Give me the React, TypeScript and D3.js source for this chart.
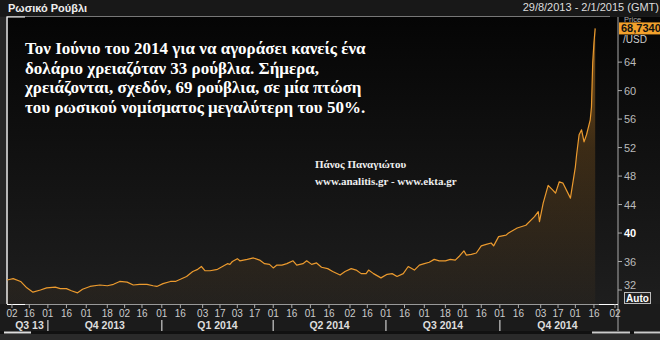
import React from "react";
import * as d3 from "d3";

const dates: string[] = [
  "2013-08-29","2013-09-03","2013-09-09","2013-09-14","2013-09-19","2013-09-25","2013-09-30",
  "2013-10-07","2013-10-11","2013-10-16","2013-10-20","2013-10-25","2013-10-29",
  "2013-11-04","2013-11-12","2013-11-18","2013-11-23","2013-11-28",
  "2013-12-04","2013-12-09","2013-12-14","2013-12-20","2013-12-25","2013-12-28",
  "2014-01-02","2014-01-08","2014-01-12","2014-01-16","2014-01-21","2014-01-26","2014-01-30",
  "2014-02-02","2014-02-05","2014-02-09","2014-02-15","2014-02-19","2014-02-23","2014-02-25","2014-02-27",
  "2014-03-03","2014-03-05","2014-03-11","2014-03-16","2014-03-21","2014-03-25","2014-03-29",
  "2014-04-01","2014-04-04","2014-04-08","2014-04-12","2014-04-17","2014-04-20","2014-04-25","2014-04-28",
  "2014-05-02","2014-05-06","2014-05-10","2014-05-15","2014-05-19","2014-05-25","2014-05-29",
  "2014-06-03","2014-06-07","2014-06-11","2014-06-15","2014-06-17","2014-06-21","2014-06-27",
  "2014-07-02","2014-07-06","2014-07-10","2014-07-15","2014-07-19","2014-07-24","2014-07-28",
  "2014-08-01","2014-08-05","2014-08-09","2014-08-13","2014-08-18","2014-08-22","2014-08-26","2014-08-29",
  "2014-09-02","2014-09-04","2014-09-08","2014-09-12","2014-09-16","2014-09-20","2014-09-24","2014-09-26","2014-09-30",
  "2014-10-06","2014-10-08","2014-10-15","2014-10-22","2014-10-29",
  "2014-11-01","2014-11-02","2014-11-05","2014-11-09","2014-11-13","2014-11-15","2014-11-18","2014-11-21","2014-11-27",
  "2014-12-01","2014-12-02","2014-12-04","2014-12-06","2014-12-08","2014-12-10","2014-12-13","2014-12-14","2014-12-15","2014-12-16","2014-12-17",
];

const values: number[] = [
  33.4,33.6,33.2,32.3,31.7,32.0,32.3,
  32.4,32.2,32.2,31.9,31.6,32.1,
  32.5,32.7,32.6,32.8,33.2,
  33.1,32.7,32.8,32.8,32.6,32.5,
  32.9,33.2,33.2,33.5,33.9,34.6,34.9,
  35.3,34.7,34.7,34.9,35.3,35.7,35.6,36.0,
  36.4,36.1,36.3,36.5,36.2,35.7,35.6,
  35.1,35.5,35.5,35.7,36.1,35.5,35.7,36.1,
  35.6,35.8,35.2,35.0,34.6,34.1,34.6,
  35.0,34.8,34.3,34.3,34.8,34.3,33.7,
  34.2,34.3,33.9,34.3,35.3,34.8,35.5,
  35.7,35.9,36.3,36.1,36.1,36.3,36.2,36.7,
  37.5,36.9,37.0,37.2,38.2,38.4,38.6,38.2,39.5,
  39.7,40.0,40.7,41.1,42.3,
  43.0,41.6,44.2,46.7,46.0,45.6,47.2,47.0,44.9,
  49.3,51.0,53.8,54.5,52.8,53.8,55.9,57.7,63.9,66.7,68.734,
];

const yTicks: number[] = [32, 36, 40, 44, 48, 52, 56, 60, 64];

const xTickDates: string[] = [
  "2013-09-02","2013-09-16","2013-10-01","2013-10-16","2013-11-01","2013-11-18","2013-12-02","2013-12-16",
  "2014-01-01","2014-01-16","2014-02-03","2014-02-17","2014-03-03","2014-03-17","2014-04-01","2014-04-16",
  "2014-05-01","2014-05-16","2014-06-02","2014-06-16","2014-07-01","2014-07-16","2014-08-01","2014-08-18",
  "2014-09-01","2014-09-16","2014-10-01","2014-10-16","2014-11-03","2014-11-17","2014-12-01","2014-12-16",
  "2015-01-02",
];

const quarterLabels: string[] = ["Q3 13", "Q4 2013", "Q1 2014", "Q2 2014", "Q3 2014", "Q4 2014"];
const quarterBounds: string[] = ["2013-08-29", "2013-10-01", "2014-01-01", "2014-04-01", "2014-07-01", "2014-10-01", "2015-01-02"];

const noteLines: string[] = [
  "Τον Ιούνιο του 2014 για να αγοράσει κανείς ένα",
  "δολάριο χρειαζόταν 33 ρούβλια. Σήμερα,",
  "χρειάζονται, σχεδόν, 69 ρούβλια, σε μία πτώση",
  "του ρωσικού νομίσματος μεγαλύτερη του 50%.",
];
const authorLines: string[] = ["Πάνος Παναγιώτου", "www.analitis.gr - www.ekta.gr"];

const parse = d3.timeParse("%Y-%m-%d");
const fmtDay = d3.timeFormat("%d");

export default function App() {
  const W = 660, H = 340;
  const left = 7, right = 618, top = 17, bottom = 304;
  const x = d3.scaleTime().domain([parse("2013-08-29")!, parse("2015-01-02")!]).range([7, 615]);
  const y = d3.scaleLinear().domain([32, 70]).range([290, 19.4]);
  const data = dates.map((d, i) => ({ d: parse(d)!, v: values[i] }));
  const line = d3.line<{ d: Date; v: number }>().x((p) => x(p.d)).y((p) => y(p.v));
  const area = d3.area<{ d: Date; v: number }>().x((p) => x(p.d)).y0(bottom).y1((p) => y(p.v));
  const sans = "'Liberation Sans', Arial, sans-serif";
  const serif = "'Liberation Serif', 'Times New Roman', serif";
  const last = values[values.length - 1];

  return (
    <svg width={W} height={H} style={{ position: "absolute", left: 0, top: 0, display: "block" }}>
      <defs>
        <linearGradient id="bg" x1="0" y1={top} x2="0" y2={bottom} gradientUnits="userSpaceOnUse">
          <stop offset="0" stopColor="#050505" />
          <stop offset="1" stopColor="#1e1e1e" />
        </linearGradient>
        <linearGradient id="fill" x1="0" y1={20} x2="0" y2={bottom} gradientUnits="userSpaceOnUse">
          <stop offset="0" stopColor="#e8962a" stopOpacity="0.55" />
          <stop offset="0.45" stopColor="#e8962a" stopOpacity="0.2" />
          <stop offset="1" stopColor="#e8962a" stopOpacity="0.03" />
        </linearGradient>
        <clipPath id="plot"><rect x={left} y={top} width={right - left} height={bottom - top} /></clipPath>
      </defs>
      <rect x={0} y={0} width={W} height={H} fill="#1b1b1b" />
      <rect x={0} y={top} width={W} height={bottom - top} fill="url(#bg)" />
      <rect x={0} y={0} width={W} height={16} fill="#181818" />
      <rect x={0} y={top} width={6} height={bottom - top} fill="#262626" />
      <text x={8} y={12} fontFamily={sans} fontSize={11} fontWeight="bold" fill="#eeeeee">Ρωσικό Ρούβλι</text>
      <text x={659} y={11} textAnchor="end" fontFamily={sans} fontSize={11} fill="#dddddd">29/8/2013 - 2/1/2015 (GMT)</text>
      <line x1={6} x2={610} y1={16.5} y2={16.5} stroke="#777" />
      <line x1={7} x2={25} y1={17} y2={17} stroke="#fff" />
      <line x1={7} x2={7} y1={17} y2={bottom} stroke="#eee" strokeWidth={1.5} />
      <g clipPath="url(#plot)">
        <path d={area(data) || ""} fill="url(#fill)" />
        <path d={line(data) || ""} fill="none" stroke="#eb9a2e" strokeWidth={1.2} strokeLinejoin="round" />
      </g>
      {/* right axis */}
      <line x1={right} x2={right} y1={top} y2={331} stroke="#aaa" />
      {yTicks.map((t) => (
        <g key={t}>
          <line x1={right} x2={622} y1={y(t)} y2={y(t)} stroke="#aaa" />
          <text x={624} y={y(t) + 4 - (t === 32 ? 5 : 0)} fontFamily={sans} fontSize={11}
            fontWeight={t === 40 ? "bold" : "normal"} fill={t === 40 ? "#ffffff" : "#bbbbbb"}>{t}</text>
        </g>
      ))}
      <text x={624} y={21.5} fontFamily={sans} fontSize={7.5} fill="#aaa">Price</text>
      <rect x={619} y={y(last) - 6} width={41} height={12} fill="#f2a12c" />
      <text x={621} y={y(last) + 4} fontFamily={sans} fontSize={11} fontWeight="bold" fill="#111">{last.toFixed(4).replace(".", ",")}</text>
      <text x={623} y={y(last) + 15} fontFamily={sans} fontSize={10} fill="#ccc">/USD</text>
      <rect x={624.5} y={292.5} width={26} height={11} fill="#222" stroke="#bbb" />
      <text x={637.5} y={301.5} textAnchor="middle" fontFamily={sans} fontSize={10} fontWeight="bold" fill="#fff">Auto</text>
      {/* bottom axis */}
      <line x1={left} x2={right} y1={bottom + 0.5} y2={bottom + 0.5} stroke="#999" />
      <line x1={7} x2={25} y1={bottom + 0.5} y2={bottom + 0.5} stroke="#fff" />
      <line x1={599} x2={right} y1={bottom + 0.5} y2={bottom + 0.5} stroke="#fff" />
      {xTickDates.map((s) => {
        const dx = x(parse(s)!);
        return (
          <g key={s}>
            <line x1={dx} x2={dx} y1={bottom} y2={bottom + 4} stroke="#aaa" />
            <text x={dx} y={317} textAnchor="middle" fontFamily={sans} fontSize={10} fill="#cccccc">{fmtDay(parse(s)!)}</text>
          </g>
        );
      })}
      {quarterLabels.map((q, i) => {
        const a = x(parse(quarterBounds[i])!);
        const b = x(parse(quarterBounds[i + 1])!);
        return (
          <g key={q}>
            <text x={(a + b) / 2 + (i === 0 ? 2 : 0)} y={329} textAnchor="middle" fontFamily={sans} fontSize={10.5}
              fontWeight="bold" fill="#dddddd">{q}</text>
            {i > 0 && <line x1={a} x2={a} y1={320} y2={331} stroke="#aaa" strokeWidth={1.5} />}
          </g>
        );
      })}
      <rect x={0} y={331} width={W} height={9} fill="#111" />
      <rect x={4} y={331.5} width={27} height={2} fill="#ddd" />
      <rect x={592} y={331.5} width={38} height={2} fill="#ccc" />
      <rect x={634} y={331.5} width={26} height={2} fill="#ccc" />
      <rect x={0} y={334} width={W} height={6} fill="#2a2a2a" />
      {/* annotation */}
      {noteLines.map((l, i) => (
        <text key={i} x={25} y={54 + i * 19.7} fontFamily={serif} fontSize={17} fontWeight="bold" fill="#ffffff">{l}</text>
      ))}
      {authorLines.map((l, i) => (
        <text key={i} x={315} y={168 + i * 17} fontFamily={serif} fontSize={11} fontWeight="bold" fill="#eeeeee">{l}</text>
      ))}
    </svg>
  );
}
